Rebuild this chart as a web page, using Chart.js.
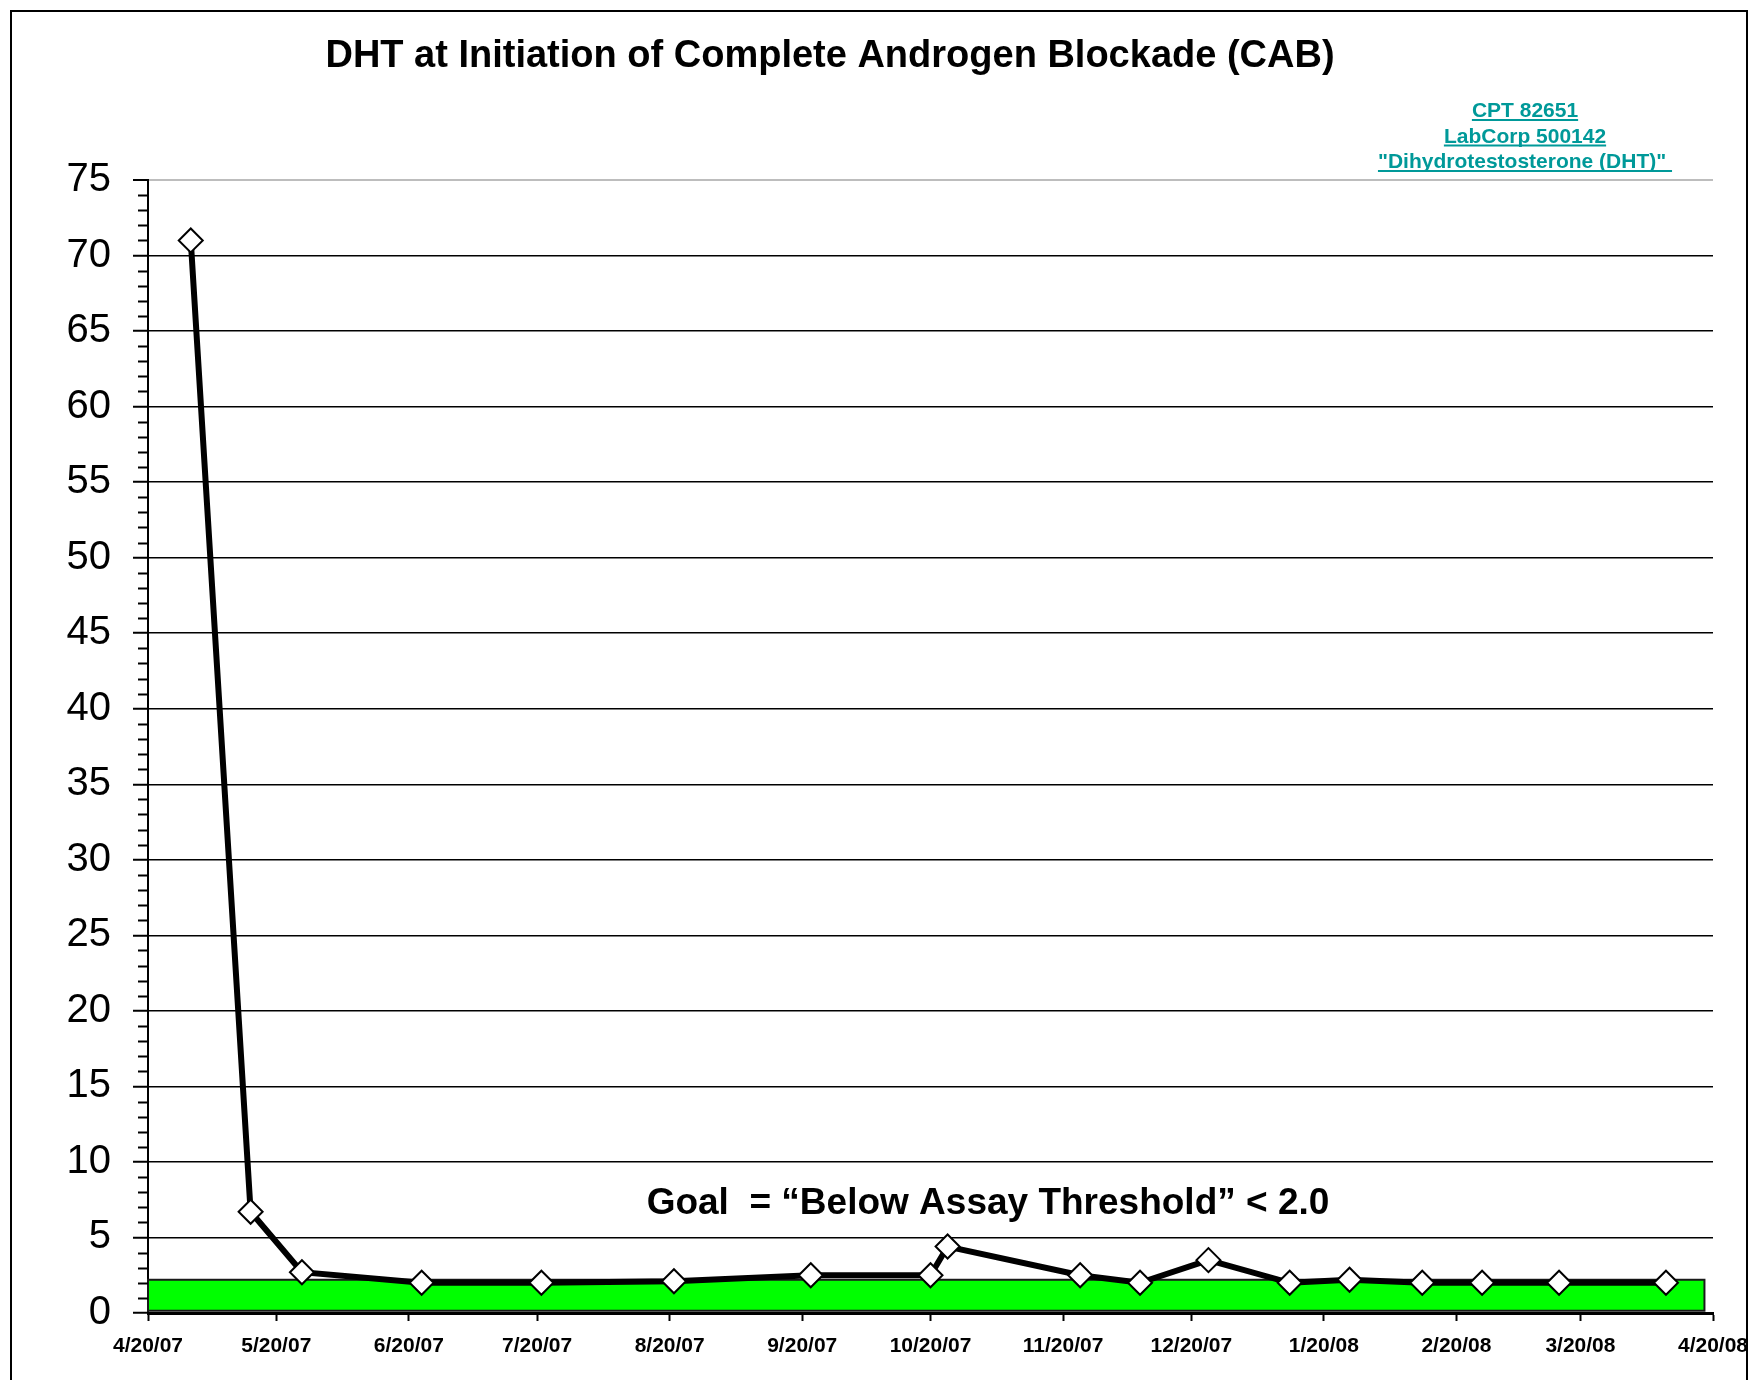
<!DOCTYPE html>
<html>
<head>
<meta charset="utf-8">
<title>DHT at Initiation of Complete Androgen Blockade (CAB)</title>
<script src="https://cdn.jsdelivr.net/npm/chart.js@4.4.1/dist/chart.umd.min.js"></script>
<style>
  html, body { margin: 0; padding: 0; background: #fff; }
  #wrap { width: 1762px; height: 1380px; }
</style>
</head>
<body>
<div id="wrap"><canvas id="dhtChart" width="1762" height="1380"></canvas></div>
<script>
    // x axis: month ticks, y axis: DHT (pg/mL)
    const tickLabels = ["4/20/07", "5/20/07", "6/20/07", "7/20/07", "8/20/07", "9/20/07", "10/20/07",
      "11/20/07", "12/20/07", "1/20/08", "2/20/08", "3/20/08", "4/20/08"];
    const testDates = ["4/30/07", "5/14/07", "5/26/07", "6/23/07", "7/21/07", "8/21/07", "9/22/07",
      "10/20/07", "10/24/07", "11/24/07", "12/8/07", "12/24/07", "1/12/08", "1/26/08", "2/12/08",
      "2/26/08", "3/15/08", "4/9/08"];
    const dhtValues = [71, 6.7, 2.7, 2.0, 2.0, 2.1, 2.5, 2.5, 4.4, 2.5, 2.0, 3.5, 2.0, 2.2, 2.0, 2.0, 2.0, 2.0];
    const goalBand = [0.15, 2.2];
    const goalBandDates = ["4/20/07", "4/18/08"];
    const yMax = 75;
    const yStep = 5;

    const titleText = "DHT at Initiation of Complete Androgen Blockade (CAB)";
    const noteLines = ["CPT 82651", "LabCorp 500142", "\"Dihydrotestosterone (DHT)\" "];
    const goalText = "Goal  = \u201cBelow Assay Threshold\u201d < 2.0";

    const START = Date.UTC(2007, 3, 20);

    function dayOf(label) {
      const [m, d, y] = label.split("/").map(Number);
      return (Date.UTC(2000 + y, m - 1, d) - START) / 86400000;
    }

    const tickDays = tickLabels.map(dayOf);
    const points = testDates.map((date, i) => ({ x: dayOf(date), y: dhtValues[i] }));

    const FONT = "'Liberation Sans', Arial, sans-serif";

    const decorPlugin = {
      id: "decor",
      beforeDatasetsDraw(chart) {
        const { ctx, scales } = chart;
        const x0 = scales.x.getPixelForValue(dayOf(goalBandDates[0]));
        const x1 = scales.x.getPixelForValue(dayOf(goalBandDates[1]));
        const yTop = scales.y.getPixelForValue(goalBand[1]);
        const yBot = scales.y.getPixelForValue(goalBand[0]);
        ctx.save();
        ctx.fillStyle = "#00ff00";
        ctx.fillRect(x0, yTop, x1 - x0, yBot - yTop);
        ctx.strokeStyle = "#1a1a1a";
        ctx.lineWidth = 2;
        ctx.strokeRect(x0, yTop, x1 - x0, yBot - yTop);
        ctx.restore();
      },
      afterDraw(chart) {
        const { ctx, scales, chartArea } = chart;
        ctx.save();

        // outer frame
        ctx.strokeStyle = "#000";
        ctx.lineWidth = 2;
        ctx.strokeRect(11, 11, 1736, 1400);

        // minor ticks on the y axis
        ctx.lineWidth = 2;
        ctx.beginPath();
        for (let v = 0; v <= yMax; v++) {
          if (v % yStep === 0) continue;
          const y = Math.round(scales.y.getPixelForValue(v)) + 0.5;
          ctx.moveTo(chartArea.left - 10, y);
          ctx.lineTo(chartArea.left, y);
        }
        ctx.stroke();

        // title
        ctx.fillStyle = "#000";
        ctx.textAlign = "center";
        ctx.textBaseline = "middle";
        ctx.font = "bold 38px " + FONT;
        ctx.fillText(titleText, 830, 57);

        // lab reference note, underlined
        ctx.fillStyle = "#009999";
        ctx.strokeStyle = "#009999";
        ctx.font = "bold 21px " + FONT;
        ctx.textBaseline = "alphabetic";
        noteLines.forEach((line, i) => {
          const y = 117 + i * 25.5;
          ctx.fillText(line, 1525, y);
          const w = ctx.measureText(line).width;
          ctx.lineWidth = 2;
          ctx.beginPath();
          ctx.moveTo(1525 - w / 2, y + 3);
          ctx.lineTo(1525 + w / 2, y + 3);
          ctx.stroke();
        });

        // goal text
        ctx.fillStyle = "#000";
        ctx.font = "bold 37px " + FONT;
        ctx.fillText(goalText, 988, 1214);
        ctx.restore();
      }
    };

    new Chart(document.getElementById("dhtChart"), {
      type: "line",
      data: {
        datasets: [
          {
            label: "DHT",
            data: points,
            borderColor: "#000",
            borderWidth: 6,
            tension: 0,
            pointStyle: "rectRot",
            pointRadius: 12,
            pointBackgroundColor: "#fff",
            pointBorderColor: "#000",
            pointBorderWidth: 2
          }
        ]
      },
      options: {
        responsive: false,
        animation: false,
        devicePixelRatio: 1,
        layout: {
          padding: { top: 180, right: 49, bottom: 0, left: 0 }
        },
        plugins: {
          legend: { display: false },
          tooltip: { enabled: false }
        },
        scales: {
          x: {
            type: "linear",
            min: 0,
            max: tickDays[tickDays.length - 1],
            afterBuildTicks(scale) {
              scale.ticks = tickDays.map((value) => ({ value }));
            },
            afterFit(scale) {
              scale.height = 67;
            },
            border: { display: true, color: "#000", width: 3 },
            grid: {
              drawOnChartArea: false,
              drawTicks: true,
              tickLength: 8,
              tickWidth: 2,
              tickColor: "#000"
            },
            ticks: {
              autoSkip: false,
              maxRotation: 0,
              padding: 13,
              color: "#000",
              font: { family: FONT, size: 21, weight: "bold" },
              callback: (value, index) => tickLabels[index]
            }
          },
          y: {
            min: 0,
            max: yMax,
            afterFit(scale) {
              scale.width = 148;
            },
            border: { display: true, color: "#000", width: 2 },
            grid: {
              color: (ctx) => (ctx.tick && ctx.tick.value === yMax ? "#bdbdbd" : "#000"),
              lineWidth: (ctx) => (ctx.tick && ctx.tick.value === yMax ? 2 : 1.5),
              drawTicks: true,
              tickLength: 15,
              tickWidth: 2,
              tickColor: "#000"
            },
            ticks: {
              stepSize: yStep,
              padding: 22,
              color: "#000",
              font: { family: FONT, size: 40 }
            }
          }
        }
      },
      plugins: [decorPlugin]
    });
</script>
</body>
</html>
